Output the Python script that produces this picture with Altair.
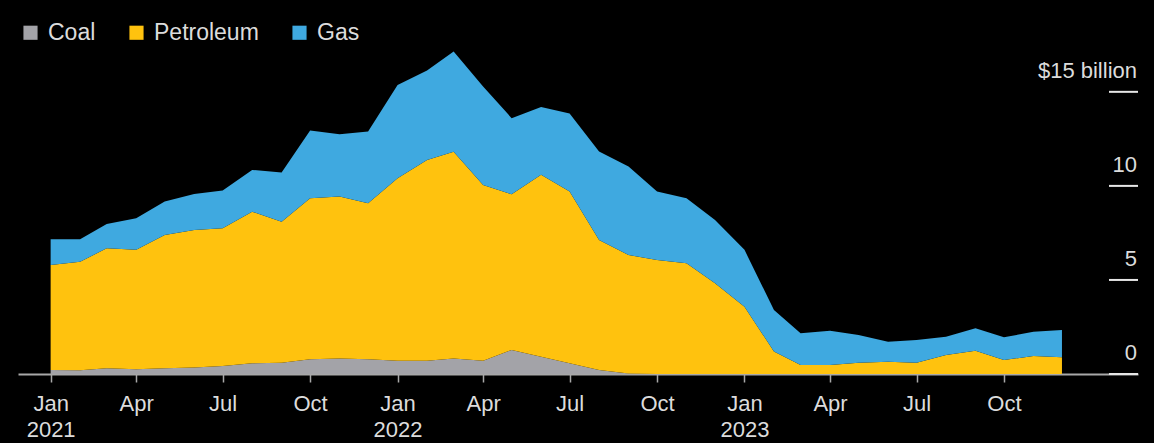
import altair as alt
import pandas as pd

months = [
    "2021-01-01T00:00:00", "2021-02-01T00:00:00", "2021-03-01T00:00:00", "2021-04-01T00:00:00",
    "2021-05-01T00:00:00", "2021-06-01T00:00:00", "2021-07-01T00:00:00", "2021-08-01T00:00:00",
    "2021-09-01T00:00:00", "2021-10-01T00:00:00", "2021-11-01T00:00:00", "2021-12-01T00:00:00",
    "2022-01-01T00:00:00", "2022-02-01T00:00:00", "2022-03-01T00:00:00", "2022-04-01T00:00:00",
    "2022-05-01T00:00:00", "2022-06-01T00:00:00", "2022-07-01T00:00:00", "2022-08-01T00:00:00",
    "2022-09-01T00:00:00", "2022-10-01T00:00:00", "2022-11-01T00:00:00", "2022-12-01T00:00:00",
    "2023-01-01T00:00:00", "2023-02-01T00:00:00", "2023-03-01T00:00:00", "2023-04-01T00:00:00",
    "2023-05-01T00:00:00", "2023-06-01T00:00:00", "2023-07-01T00:00:00", "2023-08-01T00:00:00",
    "2023-09-01T00:00:00", "2023-10-01T00:00:00", "2023-11-01T00:00:00", "2023-12-01T00:00:00",
]

coal = [0.21, 0.20, 0.30, 0.25, 0.30, 0.35, 0.42, 0.57, 0.60, 0.78, 0.83, 0.78,
        0.71, 0.71, 0.83, 0.71, 1.28, 0.92, 0.57, 0.21, 0.03, 0.0, 0.0, 0.0,
        0.0, 0.0, 0.0, 0.0, 0.0, 0.0, 0.0, 0.0, 0.0, 0.0, 0.0, 0.0]

petroleum = [5.59, 5.77, 6.38, 6.35, 7.09, 7.31, 7.33, 8.06, 7.50, 8.56, 8.60, 8.30,
             9.70, 10.67, 10.99, 9.34, 8.27, 9.67, 9.13, 6.92, 6.30, 6.06, 5.89, 4.82,
             3.58, 1.19, 0.48, 0.48, 0.60, 0.65, 0.60, 1.01, 1.24, 0.74, 0.96, 0.89]

gas = [1.36, 1.19, 1.30, 1.68, 1.78, 1.91, 2.00, 2.22, 2.61, 3.60, 3.32, 3.81,
       4.96, 4.75, 5.32, 5.23, 4.05, 3.61, 4.15, 4.70, 4.70, 3.64, 3.45, 3.37,
       3.02, 2.21, 1.68, 1.82, 1.47, 1.07, 1.21, 0.97, 1.19, 1.21, 1.29, 1.45]

fuels = ["Coal", "Petroleum", "Gas"]
fuel_colors = ["#a3a3a8", "#ffc20e", "#3fa9e0"]

tick_values = [0, 5, 10, 15]
tick_labels = ["0", "5", "10", "$15 billion"]

quarter_ticks = [(2021, 1), (2021, 4), (2021, 7), (2021, 10),
                 (2022, 1), (2022, 4), (2022, 7), (2022, 10),
                 (2023, 1), (2023, 4), (2023, 7), (2023, 10)]

rows = []
for i, m in enumerate(months):
    for k, (name, series) in enumerate(zip(fuels, [coal, petroleum, gas])):
        rows.append({"date": m, "fuel": name, "value": series[i], "ord": k})
df = pd.DataFrame(rows)

ticks_df = pd.DataFrame({"v": tick_values, "lab": tick_labels})

FONT = "Liberation Sans"
TXT = "#dcdcdc"

x_scale = alt.Scale(domain=[alt.DateTime(year=2020, month=11, date=27, hours=16),
                            alt.DateTime(year=2024, month=2, date=19)])
y_scale = alt.Scale(domain=[0, 18.5], nice=False)

area = alt.Chart(df).mark_area(interpolate="linear", opacity=1).encode(
    x=alt.X("date:T", scale=x_scale, title=None,
            axis=alt.Axis(
                values=[alt.DateTime(year=y, month=m, date=1) for y, m in quarter_ticks],
                labelExpr="month(datum.value) == 0 ? [timeFormat(datum.value, '%b'), timeFormat(datum.value, '%Y')] : timeFormat(datum.value, '%b')",
                domainColor="#a8a8a8", domainWidth=2,
                tickColor="#a8a8a8", tickSize=8, tickWidth=1.5,
                grid=False, labelColor=TXT, labelFont=FONT, labelFontSize=22,
                labelLineHeight=26, labelPadding=11, labelFlush=False, labelOverlap=False)),
    y=alt.Y("value:Q", stack="zero", scale=y_scale, axis=None),
    color=alt.Color("fuel:N", scale=alt.Scale(domain=fuels, range=fuel_colors),
                    legend=alt.Legend(orient="none", legendX=1, legendY=-5,
                                      direction="horizontal", title=None,
                                      symbolType="square", symbolSize=200,
                                      symbolStrokeWidth=0, symbolOpacity=1,
                                      labelFont=FONT, labelFontSize=23, labelColor=TXT,
                                      labelOffset=6, columnPadding=29)),
    order=alt.Order("ord:Q", sort="ascending"),
)

tick_rules = alt.Chart(ticks_df).mark_rule(color="#e6e6e6", strokeWidth=2).encode(
    y=alt.Y("v:Q", scale=y_scale, axis=None),
    x=alt.value(1091), x2=alt.value(1120),
)

tick_text = alt.Chart(ticks_df).mark_text(
    align="right", baseline="middle", dy=-21, font=FONT, fontSize=22, color=TXT
).encode(
    y=alt.Y("v:Q", scale=y_scale, axis=None),
    x=alt.value(1119),
    text="lab:N",
)

chart = alt.layer(area, tick_rules, tick_text).properties(
    width=1120, height=348,
    padding={"left": 18, "top": 26, "right": 16, "bottom": 69},
    autosize="none",
    background="black",
).configure_view(stroke=None)

chart.save("out.html", embed_options={"renderer": "svg", "actions": False})
